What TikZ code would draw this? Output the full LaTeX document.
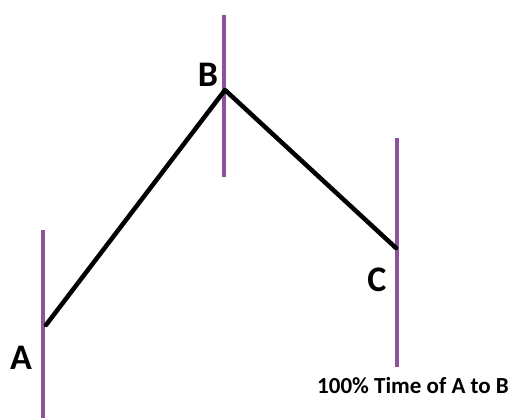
\documentclass[tikz,border=0pt]{standalone}
\usepackage{fontspec}
\setmainfont{Carlito}
\definecolor{vpurple}{RGB}{142,82,156}
\begin{document}
\begin{tikzpicture}[x=1pt,y=-1pt,
  vline/.style={draw=vpurple,line width=4pt},
  wave/.style={draw=black,line width=4.5pt,line cap=round,line join=round},
  lbl/.style={font=\bfseries\fontsize{36}{36}\selectfont,inner sep=0pt},
  note/.style={font=\bfseries\fontsize{23}{24}\selectfont,inner sep=0pt,anchor=west}]
\useasboundingbox[fill=white] (0,0) rectangle (522,420);
\coordinate (a1) at (43,230); \coordinate (a2) at (43,418);
\coordinate (b1) at (224,15); \coordinate (b2) at (224,177);
\coordinate (c1) at (397,138); \coordinate (c2) at (397,367);
\draw[vline] (a1) -- (a2);
\draw[vline] (b1) -- (b2);
\draw[vline] (c1) -- (c2);
\coordinate (A) at (46,325);
\coordinate (B) at (225,90);
\coordinate (C) at (396,248);
\draw[wave] (A) -- (B) -- (C);
\node[lbl] (la) at (21,358) {A};
\node[lbl] (lb) at (208,75) {B};
\node[lbl] (lc) at (377,280) {C};
\node[note] (t) at (317,386) {100\% Time of A to B};
\end{tikzpicture}
\end{document}
